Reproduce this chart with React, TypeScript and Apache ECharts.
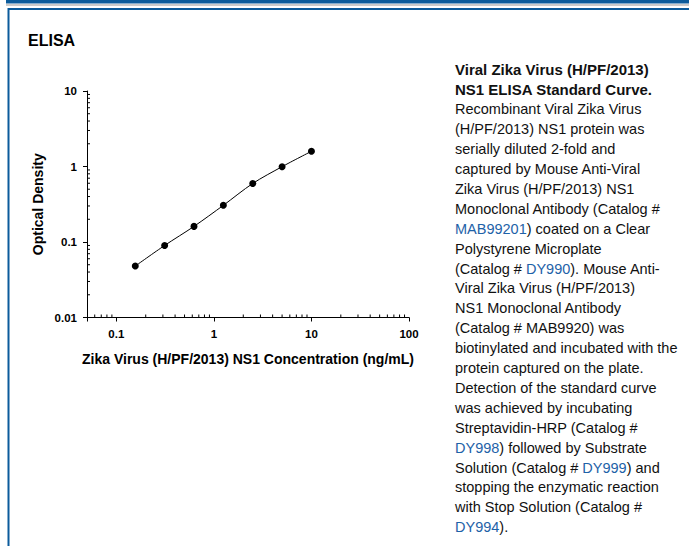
import React, { useEffect, useRef } from "react";
import * as echarts from "echarts";

// ---- data ----
const concentrations = [0.15625, 0.3125, 0.625, 1.25, 2.5, 5, 10];
const opticalDensity = [0.048, 0.09, 0.161, 0.306, 0.596, 0.995, 1.59];

const xMinorTicks = [
  0.06, 0.07, 0.08, 0.09,
  0.2, 0.3, 0.4, 0.5, 0.6, 0.7, 0.8, 0.9,
  2, 3, 4, 5, 6, 7, 8, 9,
  20, 30, 40, 50, 60, 70, 80, 90,
];
const yMinorTicks = [
  0.02, 0.03, 0.04, 0.05, 0.06, 0.07, 0.08, 0.09,
  0.2, 0.3, 0.4, 0.5, 0.6, 0.7, 0.8, 0.9,
  2, 3, 4, 5, 6, 7, 8, 9,
];

const xAxisMin = 0.05;
const xAxisMax = 100;
const yAxisMin = 0.01;
const yAxisMax = 10;

const panelTitle = "ELISA";
const xAxisTitle = "Zika Virus (H/PF/2013) NS1 Concentration (ng/mL)";
const yAxisTitle = "Optical Density";

// {b|...} bold, {l|...} link blue
const captionLines = [
  "{b|Viral Zika Virus (H/PF/2013)}",
  "{b|NS1 ELISA Standard Curve.}",
  "Recombinant Viral Zika Virus",
  "(H/PF/2013) NS1 protein was",
  "serially diluted 2-fold and",
  "captured by Mouse Anti-Viral",
  "Zika Virus (H/PF/2013) NS1",
  "Monoclonal Antibody (Catalog #",
  "{l|MAB99201}) coated on a Clear",
  "Polystyrene Microplate",
  "(Catalog # {l|DY990}). Mouse Anti-",
  "Viral Zika Virus (H/PF/2013)",
  "NS1 Monoclonal Antibody",
  "(Catalog # MAB9920) was",
  "biotinylated and incubated with the",
  "protein captured on the plate.",
  "Detection of the standard curve",
  "was achieved by incubating",
  "Streptavidin-HRP (Catalog #",
  "{l|DY998}) followed by Substrate",
  "Solution (Catalog # {l|DY999}) and",
  "stopping the enzymatic reaction",
  "with Stop Solution (Catalog #",
  "{l|DY994}).",
];

const FONT = "Arial, 'Liberation Sans', Helvetica, sans-serif";
const BLUE = "#0b5b9b";

function isPow10(v: number) {
  const l = Math.log10(v);
  return Math.abs(l - Math.round(l)) < 1e-6;
}

export default function App() {
  const ref = useRef<HTMLDivElement>(null);

  useEffect(() => {
    document.body.style.margin = "0";
    const chart = echarts.init(ref.current!, null, { renderer: "svg" });

    const textX = 455;
    const textY0 = 69.5;
    const lineH = 19.9;
    const captionGraphics = captionLines.map((t, i) => ({
      type: "text",
      x: textX,
      y: textY0 + i * lineH,
      silent: true,
      style: {
        text: t,
        fill: "#111",
        fontSize: 14.5,
        fontFamily: FONT,
        verticalAlign: "middle",
        align: "left",
        rich: {
          b: { fontSize: 15, fontWeight: "bold", fontFamily: FONT, fill: "#111" },
          l: { fontSize: 14.5, fontFamily: FONT, fill: "#1e62a8" },
        },
      },
    }));

    const axisLabelFmt = (v: number) => {
      if (!isPow10(v)) return "";
      return String(Number(v.toPrecision(6)));
    };

    const option: any = {
      animation: false,
      backgroundColor: "#fff",
      grid: {
        left: 87,
        top: 91,
        width: 322,
        height: 226.5,
        outerBoundsMode: "none",
        containLabel: false,
      },
      xAxis: {
        type: "log",
        logBase: 10,
        min: xAxisMin,
        max: xAxisMax,
        name: xAxisTitle,
        nameLocation: "middle",
        nameGap: 34,
        nameTextStyle: { fontFamily: FONT, fontWeight: "bold", fontSize: 14, color: "#000" },
        axisLine: { show: true, onZero: false, lineStyle: { color: "#000", width: 1 } },
        axisTick: { show: true, inside: false, length: 4, lineStyle: { color: "#000" } },
        axisLabel: {
          show: true,
          margin: 10,
          formatter: axisLabelFmt,
          fontFamily: FONT,
          fontWeight: "bold",
          fontSize: 11.5,
          color: "#000",
        },
        splitLine: { show: false },
      },
      yAxis: {
        type: "log",
        logBase: 10,
        min: yAxisMin,
        max: yAxisMax,
        name: yAxisTitle,
        nameLocation: "middle",
        nameGap: 42,
        nameTextStyle: { fontFamily: FONT, fontWeight: "bold", fontSize: 14, color: "#000" },
        axisLine: { show: true, onZero: false, lineStyle: { color: "#000", width: 1 } },
        axisTick: { show: true, inside: false, length: 4, lineStyle: { color: "#000" } },
        axisLabel: {
          show: true,
          margin: 10,
          formatter: axisLabelFmt,
          fontFamily: FONT,
          fontWeight: "bold",
          fontSize: 11.5,
          color: "#000",
        },
        splitLine: { show: false },
      },
      series: [
        {
          type: "line",
          data: concentrations.map((c, i) => [c, opticalDensity[i]]),
          smooth: 0.3,
          symbol: "circle",
          symbolSize: 7,
          itemStyle: { color: "#000" },
          lineStyle: { color: "#000", width: 1 },
          silent: true,
          z: 5,
        },
        {
          type: "custom",
          silent: true,
          clip: false,
          data: xMinorTicks.map((v) => [v, yAxisMin]),
          renderItem: (params: any, api: any) => {
            const p = api.coord([api.value(0), api.value(1)]);
            return {
              type: "line",
              shape: { x1: p[0], y1: p[1], x2: p[0], y2: p[1] - 3 },
              style: { stroke: "#000", lineWidth: 1 },
            };
          },
        },
        {
          type: "custom",
          silent: true,
          clip: false,
          data: yMinorTicks.map((v) => [xAxisMin, v]),
          renderItem: (params: any, api: any) => {
            const p = api.coord([api.value(0), api.value(1)]);
            return {
              type: "line",
              shape: { x1: p[0], y1: p[1], x2: p[0] + 3, y2: p[1] },
              style: { stroke: "#000", lineWidth: 1 },
            };
          },
        },
      ],
      graphic: [
        { type: "rect", silent: true, shape: { x: 6, y: 0, width: 683, height: 3.5 }, style: { fill: BLUE } },
        { type: "rect", silent: true, shape: { x: 6, y: 4.3, width: 683, height: 1.5 }, style: { fill: "#b9b9b9" } },
        { type: "rect", silent: true, shape: { x: 8, y: 8, width: 681, height: 2 }, style: { fill: BLUE } },
        { type: "rect", silent: true, shape: { x: 7.5, y: 8, width: 2, height: 538 }, style: { fill: BLUE } },
        {
          type: "text",
          silent: true,
          x: 28,
          y: 40,
          style: {
            text: panelTitle,
            fill: "#000",
            fontSize: 16,
            fontWeight: "bold",
            fontFamily: FONT,
            verticalAlign: "middle",
          },
        },
        ...captionGraphics,
      ],
    };

    chart.setOption(option);
    return () => chart.dispose();
  }, []);

  return (
    <div
      ref={ref}
      style={{ position: "fixed", left: 0, top: 0, width: 689, height: 546 }}
    />
  );
}
